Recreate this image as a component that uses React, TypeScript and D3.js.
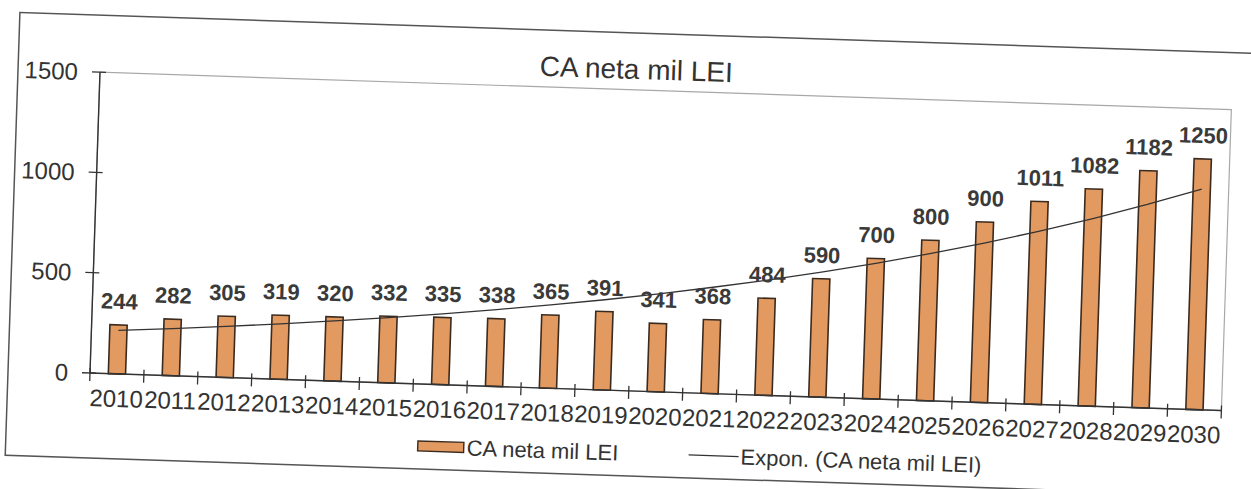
import * as d3 from 'd3';

const years = ['2010', '2011', '2012', '2013', '2014', '2015', '2016', '2017', '2018', '2019', '2020',
  '2021', '2022', '2023', '2024', '2025', '2026', '2027', '2028', '2029', '2030'];
const caNeta = [244, 282, 305, 319, 320, 332, 335, 338, 365, 391, 341, 368, 484, 590, 700, 800, 900, 1011, 1082, 1182, 1250];
// exponential trend line
const trend = [217, 235, 255, 276, 300, 325, 353, 383, 415, 450, 488, 530, 574, 623, 676, 733, 795, 862, 935, 1014, 1100];
const yTicks = [0, 500, 1000, 1500];

const W = 1251;
const H = 489;
const plot = { left: 90, right: 1222, top: 72, bottom: 373 };
const FONT = '"Liberation Sans", Arial, Helvetica, sans-serif';
const TILT = 1.9; // the page was scanned slightly skewed

const App = () => {
  const x = d3.scaleBand<string>().domain(years).range([plot.left, plot.right]).padding(0);
  const y = d3.scaleLinear().domain([0, 1500]).range([plot.bottom, plot.top]);
  const bw = x.bandwidth();
  const barW = bw * 0.32;
  const cx = (yr: string) => (x(yr) ?? 0) + bw / 2;

  const trendLine = d3.line<number>()
    .x((_, i) => cx(years[i]))
    .y(d => y(d));

  const bounds = d3.range(years.length + 1).map(i => plot.left + i * bw);

  return (
    <svg width={W} height={H} style={{ position: 'absolute', left: 0, top: 0, background: '#fff' }}>
      <g transform={`rotate(${TILT}, ${plot.left}, ${plot.bottom})`} fontFamily={FONT}>
        {/* outer chart border */}
        <rect x={8} y={15} width={1260} height={443} fill="none" stroke="#555" strokeWidth={1.5} />

        {/* plot area */}
        <rect x={plot.left} y={plot.top} width={plot.right - plot.left} height={plot.bottom - plot.top}
          fill="none" stroke="#a8a8a8" strokeWidth={1.2} />

        <text x={626} y={61} textAnchor="middle" fontSize={28} fill="#333">CA neta mil LEI</text>

        {/* y axis */}
        <line x1={plot.left} x2={plot.left} y1={plot.top} y2={plot.bottom} stroke="#333" strokeWidth={1.4} />
        {yTicks.map(t => (
          <g key={t}>
            <line x1={plot.left - 8} x2={plot.left + 6} y1={y(t)} y2={y(t)} stroke="#333" strokeWidth={1.3} />
            <text x={plot.left - 22} y={y(t)} dy="0.35em" textAnchor="end" fontSize={24} fill="#333">{t}</text>
          </g>
        ))}

        {/* bars */}
        {years.map((yr, i) => (
          <rect key={yr} x={cx(yr) - barW / 2} y={y(caNeta[i])} width={barW} height={y(0) - y(caNeta[i])}
            fill="#e39a60" stroke="#3b2a1e" strokeWidth={1.6} />
        ))}

        {/* x axis */}
        <line x1={plot.left} x2={plot.right} y1={plot.bottom} y2={plot.bottom} stroke="#333" strokeWidth={1.4} />
        {bounds.map((b, i) => (
          <line key={i} x1={b} x2={b} y1={plot.bottom - 5} y2={plot.bottom + 8} stroke="#333" strokeWidth={1.3} />
        ))}
        {years.map(yr => (
          <text key={yr} x={cx(yr)} y={plot.bottom + 33} textAnchor="middle" fontSize={24} fill="#333">{yr}</text>
        ))}

        {/* trend */}
        <path d={trendLine(trend) ?? ''} fill="none" stroke="#333" strokeWidth={1.3} />

        {/* value labels */}
        {years.map((yr, i) => (
          <text key={yr} x={cx(yr)} y={y(caNeta[i]) - 16} textAnchor="middle" fontSize={22}
            fontWeight="bold" fill="#3a3a3a">{caNeta[i]}</text>
        ))}

        {/* legend */}
        <rect x={420} y={430} width={46} height={10} fill="#e39a60" stroke="#3b2a1e" strokeWidth={1.4} />
        <text x={469} y={443} fontSize={22} fill="#333">CA neta mil LEI</text>
        <line x1={691} x2={741} y1={435} y2={435} stroke="#333" strokeWidth={1.3} />
        <text x={743} y={443} fontSize={22} fill="#333">Expon. (CA neta mil LEI)</text>
      </g>
    </svg>
  );
};

export default App;
